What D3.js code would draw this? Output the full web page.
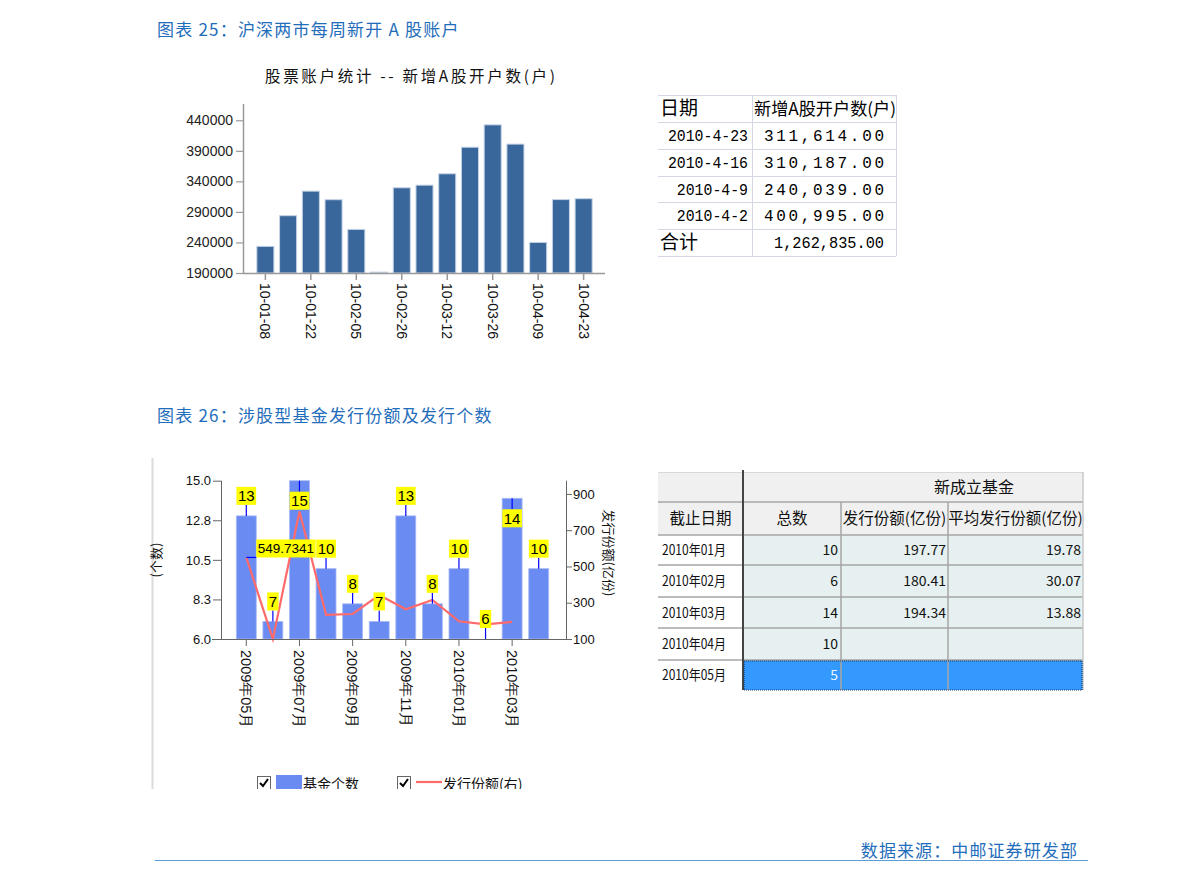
<!DOCTYPE html>
<html><head><meta charset="utf-8">
<script src="https://cdn.jsdelivr.net/npm/d3@7/dist/d3.min.js"></script>
<style>
body{margin:0;background:#fff;}
svg{display:block;font-family:"Noto Sans CJK SC","Liberation Sans",sans-serif;}
</style></head><body>
<svg id="c" width="1191" height="879"></svg>
<script>
// ---------- Data: chart 25 ----------
const weekDates = ["10-01-08","10-01-15","10-01-22","10-01-29","10-02-05","10-02-12","10-02-26","10-03-05","10-03-12","10-03-19","10-03-26","10-04-02","10-04-09","10-04-16","10-04-23"];
const newAccounts = [233600,283800,324000,310000,261400,191500,329500,333800,352400,395900,432500,400995,240039,310187,311614];
const accountTicks = [190000,240000,290000,340000,390000,440000];
const accountTableDates = ["2010-4-23","2010-4-16","2010-4-9","2010-4-2"];
const accountTableValues = [311614,310187,240039,400995];
const accountTableTotal = 1262835;

// ---------- Data: chart 26 ----------
const months = ["2009年05月","2009年06月","2009年07月","2009年08月","2009年09月","2009年10月","2009年11月","2009年12月","2010年01月","2010年02月","2010年03月","2010年04月"];
const fundCounts = [13,7,15,10,8,7,13,8,10,6,14,10];
const issueShares = [549.7341,100,803,233,238,342,264,315,197.77,180.41,194.34,null];
const countTicks = [6.0,8.25,10.5,12.75,15.0];
const shareTicks = [100,300,500,700,900];
const fundTableMonths = ["2010年01月","2010年02月","2010年03月","2010年04月","2010年05月"];
const fundTableCounts = [10,6,14,10,5];
const fundTableShares = ["197.77","180.41","194.34","",""];
const fundTableAvg = ["19.78","30.07","13.88","",""];

const svg = d3.select("#c");
const BLUE_T = "#1f6dbb";

// ---------- Section titles ----------
svg.append("text").attr("x",157).attr("y",36).attr("fill",BLUE_T).attr("font-size",17).attr("letter-spacing",1.2)
  .text("图表 25：沪深两市每周新开 A 股账户");
svg.append("text").attr("x",157).attr("y",422).attr("fill",BLUE_T).attr("font-size",17).attr("letter-spacing",1.2)
  .text("图表 26：涉股型基金发行份额及发行个数");
svg.append("text").attr("x",1078).attr("y",857).attr("fill",BLUE_T).attr("font-size",17).attr("letter-spacing",1.1)
  .attr("text-anchor","end").text("数据来源：中邮证券研发部");
svg.append("line").attr("x1",155).attr("x2",1088).attr("y1",860.5).attr("y2",860.5)
  .attr("stroke","#5b9bd5").attr("stroke-width",1.2);

// ---------- Chart 25 ----------
{
  const g = svg.append("g");
  const y = d3.scaleLinear().domain([190000,465000]).range([273,105]);
  const x = d3.scaleBand().domain(weekDates).range([254,595]).paddingInner(0.25).paddingOuter(0.125);
  g.append("text").attr("x",265).attr("y",82).attr("font-size",15.5)
    .attr("textLength",290).attr("lengthAdjust","spacing")
    .attr("fill","#111").text("股票账户统计 -- 新增A股开户数(户)");
  g.selectAll("rect.bar").data(newAccounts).join("rect").attr("class","bar")
    .attr("x",(d,i)=>x(weekDates[i])).attr("width",x.bandwidth())
    .attr("y",d=>y(d)).attr("height",d=>y(190000)-y(d))
    .attr("fill","#3a679b").attr("stroke","#c5d3e6").attr("stroke-width",1);
  const minor = d3.range(190000,465001,50000/3);
  const ax = g.append("g").attr("transform","translate(243,0)");
  ax.call(d3.axisLeft(y).tickValues(minor).tickSize(6).tickFormat(""));
  ax.call(d3.axisLeft(y).tickValues(accountTicks).tickSize(7).tickFormat(d3.format("d")));
  ax.selectAll("path").remove();
  ax.selectAll("line").attr("stroke","#999").attr("stroke-width",1.2);
  ax.selectAll("text").attr("font-family","Liberation Sans").attr("font-size",14).attr("fill","#222").attr("x",-10);
  g.append("line").attr("x1",243.5).attr("x2",243.5).attr("y1",104).attr("y2",274).attr("stroke","#999").attr("stroke-width",1.5);
  g.append("line").attr("x1",243).attr("x2",605).attr("y1",273.5).attr("y2",273.5).attr("stroke","#999").attr("stroke-width",1.5);
  const xa = g.append("g").attr("transform","translate(0,273)");
  xa.call(d3.axisBottom(x).tickValues(weekDates.filter((d,i)=>i%2===0)).tickSize(7));
  xa.select("path").remove();
  xa.selectAll("line").attr("stroke","#999").attr("stroke-width",1.5);
  xa.selectAll("text").attr("font-family","Liberation Sans").attr("font-size",14).attr("fill","#111")
    .attr("transform","rotate(90)").attr("text-anchor","start").attr("x",10).attr("y",0).attr("dy","0.35em");
}

// ---------- Table 25 ----------
{
  const g = svg.append("g");
  const cols = [658,752,896];
  const rows = [95,122,149,176,202,229,256];
  rows.forEach(r=>g.append("line").attr("x1",cols[0]).attr("x2",cols[2]).attr("y1",r+0.5).attr("y2",r+0.5).attr("stroke","#d3d8e4"));
  [cols[1],cols[2]].forEach(c=>g.append("line").attr("x1",c+0.5).attr("x2",c+0.5).attr("y1",rows[0]).attr("y2",rows[6]).attr("stroke","#d3d8e4"));
  const mid = i => (rows[i]+rows[i+1])/2;
  g.append("text").attr("x",660).attr("y",mid(0)).attr("dy","0.36em").attr("font-size",19).text("日期");
  g.append("text").attr("x",754).attr("y",mid(0)).attr("dy","0.36em").attr("font-size",17).attr("textLength",142).attr("lengthAdjust","spacingAndGlyphs").text("新增A股开户数(户)");
  const fmt = d3.format(",.2f");
  const monoText = (xx,yy,str,len,adj)=>g.append("text").attr("x",xx).attr("y",yy).attr("dy","0.36em").attr("text-anchor","end")
      .attr("font-family","Liberation Mono").attr("font-size",16).attr("fill","#000")
      .attr("textLength",len).attr("lengthAdjust",adj).text(str);
  accountTableDates.forEach((d,i)=>{
    monoText(748, mid(i+1), d, d.length*8.9, "spacingAndGlyphs");
    monoText(884, mid(i+1), fmt(accountTableValues[i]), 120, "spacing");
  });
  g.append("text").attr("x",660).attr("y",mid(5)).attr("dy","0.36em").attr("font-size",19).text("合计");
  monoText(884, mid(5), fmt(accountTableTotal), 110, "spacingAndGlyphs");
}

// ---------- Chart 26 ----------
{
  const defs = svg.append("defs");
  defs.append("clipPath").attr("id","clip26").append("rect").attr("x",140).attr("y",450).attr("width",500).attr("height",339);
  const g = svg.append("g").attr("clip-path","url(#clip26)");
  g.append("line").attr("x1",152.5).attr("x2",152.5).attr("y1",458).attr("y2",790).attr("stroke","#dcdcdc").attr("stroke-width",2);
  const plotTop = 480.7, plotBot = 639;
  const yL = d3.scaleLinear().domain([6,15]).range([plotBot,plotTop]);
  const yR = d3.scaleLinear().domain([100,973]).range([plotBot,plotTop]);
  const x = d3.scaleBand().domain(months).range([233,552]).paddingInner(0.25).paddingOuter(0.125);
  const cx = m => x(m)+x.bandwidth()/2;

  g.selectAll("rect.bar").data(fundCounts).join("rect").attr("class","bar")
    .attr("x",(d,i)=>x(months[i])).attr("width",x.bandwidth())
    .attr("y",d=>yL(d)).attr("height",d=>Math.max(0,plotBot-yL(d)))
    .attr("fill","#6a8cf2").attr("stroke","#a9bbf6").attr("stroke-width",0.8);

  const pts = issueShares.map((v,i)=>({v,m:months[i]})).filter(p=>p.v!==null);
  g.append("path").datum(pts)
    .attr("d",d3.line().x(p=>cx(p.m)).y(p=>yR(p.v)))
    .attr("fill","none").attr("stroke","#ff6a6a").attr("stroke-width",2.2);

  const axL = g.append("g").attr("transform","translate(221,0)");
  const minorL = d3.range(6,15.001,0.75);
  axL.call(d3.axisLeft(yL).tickValues(minorL).tickSize(5).tickFormat(""));
  axL.call(d3.axisLeft(yL).tickValues(countTicks).tickSize(8).tickFormat(d=>d.toFixed(1)));
  axL.selectAll("path").remove();
  axL.selectAll("line").attr("stroke","#666");
  axL.selectAll("text").attr("font-family","Liberation Sans").attr("font-size",13).attr("fill","#111").attr("x",-10);
  g.append("line").attr("x1",221.5).attr("x2",221.5).attr("y1",plotTop).attr("y2",plotBot).attr("stroke","#666");

  const axR = g.append("g").attr("transform","translate(566,0)");
  const minorR = d3.range(100,973,20);
  axR.call(d3.axisRight(yR).tickValues(minorR).tickSize(4).tickFormat(""));
  axR.call(d3.axisRight(yR).tickValues(shareTicks).tickSize(6).tickFormat(d3.format("d")));
  axR.selectAll("path").remove();
  axR.selectAll("line").attr("stroke","#666");
  axR.selectAll("text").attr("font-family","Liberation Sans").attr("font-size",13).attr("fill","#111").attr("x",7);
  g.append("line").attr("x1",566.5).attr("x2",566.5).attr("y1",plotTop).attr("y2",plotBot).attr("stroke","#666");

  g.append("line").attr("x1",212).attr("x2",567).attr("y1",plotBot+0.5).attr("y2",plotBot+0.5).attr("stroke","#666");
  const xa = g.append("g").attr("transform",`translate(0,${plotBot})`);
  xa.call(d3.axisBottom(x).tickValues(months.filter((d,i)=>i%2===0)).tickSize(7));
  xa.select("path").remove();
  xa.selectAll("line").attr("stroke","#666");
  xa.selectAll("text").attr("font-size",14.5).attr("fill","#111")
    .attr("transform","rotate(90)").attr("text-anchor","start").attr("x",11).attr("y",0).attr("dy","0.36em");

  g.append("text").attr("transform","translate(161,560) rotate(-90)").attr("text-anchor","middle")
    .attr("font-size",13).attr("fill","#111").text("(个数)");
  g.append("text").attr("transform","translate(604,553) rotate(90)").attr("text-anchor","middle")
    .attr("font-size",13).attr("fill","#111").text("发行份额(亿份)");

  const lblG = g.append("g");
  fundCounts.forEach((v,i)=>{
    const top = yL(v), c = cx(months[i]);
    const above = top - 30 >= plotTop;
    const boxY = above ? top-11-18 : top+11;
    lblG.append("line").attr("x1",c).attr("x2",c).attr("y1",above?top-11:top).attr("y2",above?top:top+11)
      .attr("stroke","#0000ff").attr("stroke-width",1.2);
    const t = lblG.append("text").attr("x",c).attr("y",boxY+9).attr("dy","0.36em").attr("text-anchor","middle")
      .attr("font-family","Liberation Sans").attr("font-size",15).attr("fill","#000").text(v);
    const w = t.node().getComputedTextLength()+3;
    lblG.insert("rect","text:last-child").attr("x",c-w/2).attr("y",boxY).attr("width",w).attr("height",18).attr("fill","#ffff00");
    t.raise();
  });
  {
    const p = pts[0], px = cx(p.m), py = yR(p.v);
    lblG.append("line").attr("x1",px).attr("x2",px+10).attr("y1",py).attr("y2",py).attr("stroke","#0000ff").attr("stroke-width",1.2);
    const t = lblG.append("text").attr("x",px+11.5).attr("y",py-9).attr("dy","0.36em")
      .attr("font-family","Liberation Sans").attr("font-size",13.5).attr("fill","#000").text(p.v.toFixed(4));
    const w = t.node().getComputedTextLength()+3;
    lblG.insert("rect","text:last-child").attr("x",px+10).attr("y",py-18).attr("width",w).attr("height",18).attr("fill","#ffff00");
    t.raise();
  }

  const lg = g.append("g");
  const checkbox = (x0,y0)=>{
    lg.append("rect").attr("x",x0+0.5).attr("y",y0+0.5).attr("width",13).attr("height",13).attr("fill","#fff").attr("stroke","#666");
    lg.append("path").attr("d",`M${x0+3},${y0+7} L${x0+6},${y0+10} L${x0+11},${y0+3}`).attr("fill","none").attr("stroke","#000").attr("stroke-width",2);
  };
  checkbox(257,776);
  lg.append("rect").attr("x",276).attr("y",775).attr("width",26).attr("height",16).attr("fill","#6a8cf2");
  lg.append("text").attr("x",303).attr("y",784).attr("dy","0.36em").attr("font-size",14).attr("fill","#111").text("基金个数");
  checkbox(397,776);
  lg.append("line").attr("x1",416).attr("x2",442).attr("y1",782).attr("y2",782).attr("stroke","#ff6a6a").attr("stroke-width",2.2);
  lg.append("text").attr("x",443).attr("y",784).attr("dy","0.36em").attr("font-size",14).attr("fill","#111").text("发行份额(右)");
}

// ---------- Table 26 ----------
{
  const g = svg.append("g");
  const cols = [658,743,841,948,1083];
  const rows = [472,502,535,565,597,628,660,690];
  g.append("rect").attr("x",cols[0]).attr("y",rows[0]).attr("width",cols[4]-cols[0]).attr("height",rows[2]-rows[0]).attr("fill","#f0f0f0");
  for(let r=0;r<5;r++){
    g.append("rect").attr("x",cols[0]).attr("y",rows[r+2]).attr("width",cols[1]-cols[0]).attr("height",rows[r+3]-rows[r+2]).attr("fill","#ffffff");
    g.append("rect").attr("x",cols[1]).attr("y",rows[r+2]).attr("width",cols[4]-cols[1]).attr("height",rows[r+3]-rows[r+2])
      .attr("fill", r===4 ? "#3399ff" : "#e6f0f0");
  }
  const gl = "#a6a6a6";
  rows.forEach((r,i)=>{
    if(i===0) g.append("line").attr("x1",cols[0]).attr("x2",cols[4]).attr("y1",r+0.5).attr("y2",r+0.5).attr("stroke","#d8d8d8");
    else if(i<7) g.append("line").attr("x1",cols[0]).attr("x2",cols[4]).attr("y1",r).attr("y2",r).attr("stroke",gl).attr("stroke-width",1.5);
  });
  [cols[2],cols[3]].forEach(c=>g.append("line").attr("x1",c).attr("x2",c).attr("y1",rows[1]).attr("y2",rows[7]).attr("stroke",gl).attr("stroke-width",1.5));
  g.append("line").attr("x1",cols[4]).attr("x2",cols[4]).attr("y1",rows[0]).attr("y2",rows[7]).attr("stroke","#c8c8c8").attr("stroke-width",1.5);
  g.append("line").attr("x1",cols[1]).attr("x2",cols[1]).attr("y1",rows[0]-2).attr("y2",rows[7]).attr("stroke","#444").attr("stroke-width",2);
  g.append("rect").attr("x",cols[1]+1).attr("y",rows[6]+1).attr("width",cols[4]-cols[1]-2).attr("height",rows[7]-rows[6]-1)
    .attr("fill","none").attr("stroke","#1a3a66").attr("stroke-width",1.2).attr("stroke-dasharray","1,1");

  const mid = i => (rows[i]+rows[i+1])/2;
  g.append("text").attr("x",974).attr("y",mid(0)).attr("dy","0.36em").attr("text-anchor","middle").attr("font-size",16).attr("fill","#111").text("新成立基金");
  const heads = ["截止日期","总数","发行份额(亿份)","平均发行份额(亿份)"];
  heads.forEach((h,i)=>g.append("text").attr("x",(cols[i]+cols[i+1])/2).attr("y",mid(1)).attr("dy","0.36em")
    .attr("text-anchor","middle").attr("font-size",15.5).attr("fill","#111").text(h));
  fundTableMonths.forEach((m,r)=>{
    const yy = mid(r+2);
    g.append("text").attr("x",662).attr("y",yy).attr("dy","0.36em").attr("font-size",14).attr("fill","#111")
      .attr("textLength",64).attr("lengthAdjust","spacingAndGlyphs").text(m);
    g.append("text").attr("x",cols[2]-3).attr("y",yy).attr("dy","0.36em").attr("text-anchor","end").attr("font-size",14)
      .attr("fill", r===4 ? "#e8f4ff" : "#111").text(fundTableCounts[r]);
    g.append("text").attr("x",cols[3]-2).attr("y",yy).attr("dy","0.36em").attr("text-anchor","end").attr("font-size",14).attr("fill","#111").text(fundTableShares[r]);
    g.append("text").attr("x",cols[4]-2).attr("y",yy).attr("dy","0.36em").attr("text-anchor","end").attr("font-size",14).attr("fill","#111").text(fundTableAvg[r]);
  });
}
</script>
</body></html>
